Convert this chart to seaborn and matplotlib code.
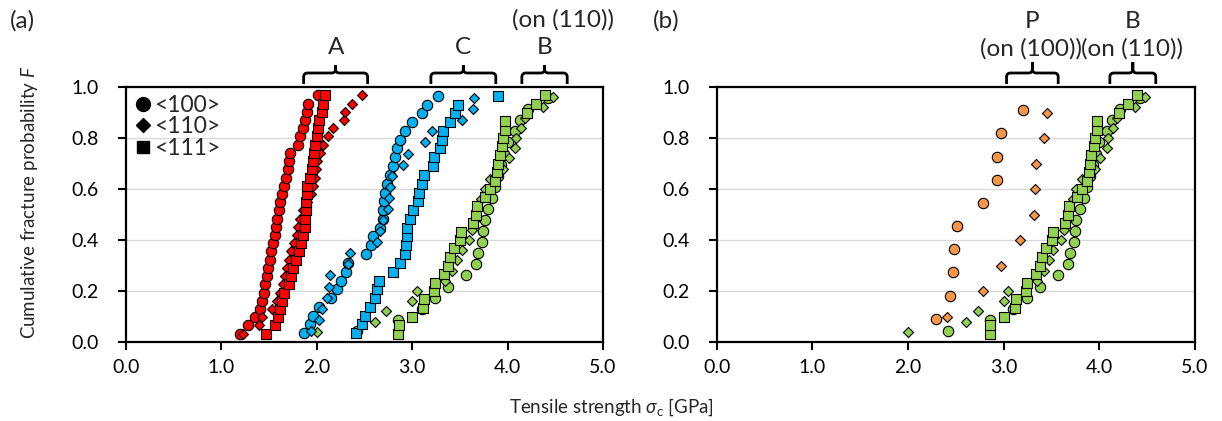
import numpy as np
import matplotlib
matplotlib.use("Agg")
import matplotlib.pyplot as plt
import matplotlib.transforms as mtransforms
from matplotlib.path import Path
from matplotlib.patches import PathPatch
from matplotlib.lines import Line2D
import seaborn as sns

sns.set_theme(style="white")
plt.rcParams["font.family"] = ["Lato", "DejaVu Sans"]
plt.rcParams["mathtext.fontset"] = "custom"
plt.rcParams["mathtext.rm"] = "Lato"
plt.rcParams["mathtext.it"] = "Lato:italic"
plt.rcParams["mathtext.fallback"] = "stixsans"

# ---- cumulative probabilities (rank positions) ----
F30 = [0.032, 0.065, 0.097, 0.129, 0.161, 0.194, 0.226, 0.258, 0.290, 0.323,
       0.355, 0.387, 0.419, 0.452, 0.484, 0.516, 0.548, 0.581, 0.613, 0.645,
       0.677, 0.710, 0.742, 0.774, 0.806, 0.839, 0.871, 0.903, 0.935, 0.968]
F29 = [0.033, 0.067, 0.100, 0.133, 0.167, 0.200, 0.233, 0.267, 0.300, 0.333,
       0.367, 0.400, 0.433, 0.467, 0.500, 0.533, 0.567, 0.600, 0.633, 0.667,
       0.700, 0.733, 0.767, 0.800, 0.833, 0.867, 0.900, 0.933, 0.967]
F28 = [0.034, 0.069, 0.103, 0.138, 0.172, 0.207, 0.241, 0.276, 0.310, 0.345,
       0.379, 0.414, 0.448, 0.483, 0.517, 0.552, 0.586, 0.621, 0.655, 0.690,
       0.724, 0.759, 0.793, 0.828, 0.862, 0.897, 0.931, 0.966]
F24 = [0.04, 0.08, 0.12, 0.16, 0.20, 0.24, 0.28, 0.32, 0.36, 0.40, 0.44, 0.48,
       0.52, 0.56, 0.60, 0.64, 0.68, 0.72, 0.76, 0.80, 0.84, 0.88, 0.92, 0.96]
F22 = [0.043, 0.087, 0.130, 0.174, 0.217, 0.261, 0.304, 0.348, 0.391, 0.435,
       0.478, 0.522, 0.565, 0.609, 0.652, 0.696, 0.739, 0.783, 0.826, 0.870,
       0.913, 0.957]
F10 = [0.091, 0.182, 0.273, 0.364, 0.455, 0.545, 0.636, 0.727, 0.818, 0.909]
F9 = [0.1, 0.2, 0.3, 0.4, 0.5, 0.6, 0.7, 0.8, 0.9]

# ---- tensile strength [GPa] ----
# mode A (red)
A_100 = [1.197, 1.277, 1.354, 1.406, 1.427, 1.445, 1.462, 1.476, 1.494, 1.511,
         1.525, 1.543, 1.560, 1.574, 1.588, 1.602, 1.616, 1.633, 1.654, 1.679,
         1.700, 1.713, 1.718, 1.808, 1.825, 1.853, 1.881, 1.898, 1.912, 2.017]
A_110 = [1.225, 1.396, 1.424, 1.53, 1.58, 1.62, 1.65, 1.67, 1.69, 1.71,
         1.73, 1.76, 1.79, 1.81, 1.83, 1.86, 1.90, 1.94, 1.965, 1.98,
         1.99, 2.00, 2.035, 2.063, 2.122, 2.174, 2.29, 2.30, 2.367, 2.471]
A_111 = [1.469, 1.567, 1.591, 1.616, 1.637, 1.657, 1.713, 1.730, 1.755, 1.783,
         1.811, 1.832, 1.860, 1.874, 1.881, 1.888, 1.890, 1.895, 1.902, 1.930,
         1.947, 1.965, 1.972, 1.986, 2.007, 2.017, 2.028, 2.052, 2.070, 2.087]
# mode C (blue)
C_100 = [1.867, 1.93, 1.965, 2.02, 2.15, 2.21, 2.255, 2.307, 2.331, 2.516,
         2.565, 2.593, 2.663, 2.691, 2.698, 2.705, 2.72, 2.733, 2.77, 2.80,
         2.82, 2.844, 2.872, 2.925, 3.00, 3.099, 3.152, 3.274]
C_110 = [1.937, 2.027, 2.052, 2.105, 2.132, 2.139, 2.331, 2.349, 2.63, 2.66,
         2.698, 2.750, 2.760, 2.765, 2.785, 2.901, 2.960, 3.134, 3.204, 3.518,
         3.640, 3.645]
C_111 = [2.412, 2.48, 2.506, 2.558, 2.611, 2.635, 2.656, 2.802, 2.872, 2.925,
         2.935, 2.942, 2.949, 2.977, 3.012, 3.064, 3.074, 3.099, 3.127, 3.221,
         3.225, 3.291, 3.309, 3.326, 3.396, 3.448, 3.483, 3.902]
# mode B on (110) (green)
B_100 = [2.42, 2.856, 3.10, 3.24, 3.378, 3.57, 3.674, 3.692, 3.733, 3.744,
         3.76, 3.796, 3.838, 3.87, 3.90, 3.93, 3.96, 4.00, 4.075, 4.128,
         4.214, 4.42]
B_110 = [2.00, 2.61, 2.73, 3.00, 3.047, 3.35, 3.42, 3.47, 3.52, 3.60,
         3.63, 3.66, 3.69, 3.72, 3.76, 3.82, 3.953, 4.012, 4.075, 4.092,
         4.145, 4.18, 4.37, 4.48]
B_111 = [2.856, 2.86, 3.002, 3.117, 3.128, 3.232, 3.239, 3.337, 3.378, 3.396,
         3.441, 3.50, 3.517, 3.64, 3.674, 3.684, 3.762, 3.814, 3.866, 3.894,
         3.90, 3.918, 3.943, 3.953, 3.971, 3.977, 4.207, 4.30, 4.39]
# mode P on (100) (orange)
P_100 = [2.292, 2.438, 2.466, 2.480, 2.508, 2.779, 2.926, 2.93, 2.971, 3.197]
P_110 = [2.410, 2.786, 2.968, 3.169, 3.316, 3.326, 3.337, 3.424, 3.455]

orient_labels = ["<100>", "<110>", "<111>"]
xticks = [0.0, 1.0, 2.0, 3.0, 4.0, 5.0]
yticks = [0.0, 0.2, 0.4, 0.6, 0.8, 1.0]

RED, BLUE, GREEN, ORANGE = "#FF0000", "#00B0F0", "#92D050", "#F79646"
MARK = {"o": 56, "D": 26, "s": 44}
TICK_FS = 14
LABEL_FS = 13.5
NOTE_FS = 17.5

W, H = 1222, 421
fig = plt.figure(figsize=(W / 100, H / 100), dpi=100)
ax_a = fig.add_axes([125.7 / W, 1 - 342 / H, 477.3 / W, 255 / H])
ax_b = fig.add_axes([716.7 / W, 1 - 342 / H, 478.3 / W, 255 / H])


def points(ax, xs, fs, marker, color, z):
    sns.scatterplot(x=xs, y=fs, marker=marker, s=MARK[marker], color=color,
                    edgecolor="black", linewidth=0.8, legend=False,
                    zorder=z, clip_on=False, ax=ax)


def style(ax):
    ax.set_xlim(0, 5)
    ax.set_ylim(0, 1)
    ax.set_xticks(xticks)
    ax.set_xticklabels([f"{v:.1f}" for v in xticks])
    ax.set_yticks(yticks)
    ax.set_yticklabels([f"{v:.1f}" for v in yticks])
    ax.set_xlabel("")
    ax.set_ylabel("")
    ax.set_axisbelow(True)
    ax.yaxis.grid(True, color="#d9d9d9", linewidth=1.0)
    ax.xaxis.grid(False)
    for sp in ax.spines.values():
        sp.set_visible(True)
        sp.set_color("black")
        sp.set_linewidth(1.6)
    ax.tick_params(axis="both", direction="out", length=5.5, width=1.5,
                   colors="black", labelsize=TICK_FS, bottom=True, left=True)
    ax.tick_params(axis="y", pad=14)
    ax.tick_params(axis="x", pad=7)


def bracket(ax, x0, x1, px_per_unit, top_px=22):
    tr = mtransforms.blended_transform_factory(ax.transData, ax.transAxes)
    py = 1 / 255.0
    px = 1 / px_per_unit
    yb, yh, yt = 1 + 3 * py, 1 + 14 * py, 1 + top_px * py
    rx, ry = 4 * px, 4 * py
    xc = 0.5 * (x0 + x1)
    verts = [(x0, yb), (x0, yh - ry), (x0, yh), (x0 + rx, yh),
             (xc - rx, yh), (xc, yh), (xc, yh + ry), (xc, yt),
             (xc, yt), (xc, yh + ry), (xc, yh), (xc + rx, yh),
             (x1 - rx, yh), (x1, yh), (x1, yh - ry), (x1, yb)]
    codes = [Path.MOVETO, Path.LINETO, Path.CURVE3, Path.CURVE3,
             Path.LINETO, Path.CURVE3, Path.CURVE3, Path.LINETO,
             Path.MOVETO, Path.LINETO, Path.CURVE3, Path.CURVE3,
             Path.LINETO, Path.CURVE3, Path.CURVE3, Path.LINETO]
    patch = PathPatch(Path(verts, codes), transform=tr, fill=False,
                      edgecolor="black", linewidth=2.0, clip_on=False,
                      capstyle="butt", joinstyle="round")
    ax.add_patch(patch)
    return xc, tr


# ---- panel (a) ----
for xs, fs, mk in [(B_100, F22, "o"), (B_110, F24, "D"), (B_111, F29, "s")]:
    points(ax_a, xs, fs, mk, GREEN, 3)
for xs, fs, mk in [(A_100, F30, "o"), (A_110, F30, "D"), (A_111, F30, "s")]:
    points(ax_a, xs, fs, mk, RED, 4)
for xs, fs, mk in [(C_100, F28, "o"), (C_110, F22, "D"), (C_111, F28, "s")]:
    points(ax_a, xs, fs, mk, BLUE, 5)
style(ax_a)

handles = [Line2D([], [], marker=m, color="black", linestyle="", markersize=ms,
                  label=lab)
           for m, ms, lab in zip(["o", "D", "s"], [10, 7.0, 9], orient_labels)]
ax_a.legend(handles=handles, loc="upper left", frameon=False, fontsize=16.5,
            handlelength=0.8, handletextpad=0.1, labelspacing=0.02,
            borderaxespad=0.15, borderpad=0.2)

for (x0, x1, lab) in [(1.864, 2.534, "A"), (3.197, 3.877, "C"), (4.15, 4.625, "B")]:
    xc, tr = bracket(ax_a, x0, x1, 95.5)
    ax_a.text(xc, 1.153, lab, transform=tr, ha="center", va="center",
              fontsize=NOTE_FS)
ax_a.text(4.58, 1.262, "(on (110))", transform=mtransforms.blended_transform_factory(
    ax_a.transData, ax_a.transAxes), ha="center", va="center", fontsize=NOTE_FS)

# ---- panel (b) ----
points(ax_b, P_100, F10, "o", ORANGE, 3)
points(ax_b, P_110, F9, "D", ORANGE, 3)
points(ax_b, B_100, F22, "o", GREEN, 4)
points(ax_b, B_110, F24, "D", GREEN, 4)
points(ax_b, B_111, F29, "s", GREEN, 4)
style(ax_b)

for (x0, x1, top, sub) in [(3.03, 3.57, "P", "(on (100))"),
                           (4.11, 4.59, "B", "(on (110))")]:
    xc, tr = bracket(ax_b, x0, x1, 95.7, top_px=25)
    ax_b.text(xc, 1.255, top, transform=tr, ha="center", va="center",
              fontsize=NOTE_FS)
    ax_b.text(xc - 0.01, 1.15, sub, transform=tr, ha="center", va="center",
              fontsize=NOTE_FS)

# ---- shared labels ----
fig.text(30 / W, 1 - 202 / H, r"Cumulative fracture probability $F$",
         rotation=90, ha="center", va="center", fontsize=LABEL_FS)
fig.text(611 / W, 1 - 407 / H, r"Tensile strength $\sigma_{\mathrm{c}}$ [GPa]",
         ha="center", va="center", fontsize=LABEL_FS)
fig.text(22 / W, 1 - 21 / H, "(a)", ha="center", va="center", fontsize=NOTE_FS)
fig.text(666 / W, 1 - 21 / H, "(b)", ha="center", va="center", fontsize=NOTE_FS)

fig.savefig("out.png", dpi=100)
